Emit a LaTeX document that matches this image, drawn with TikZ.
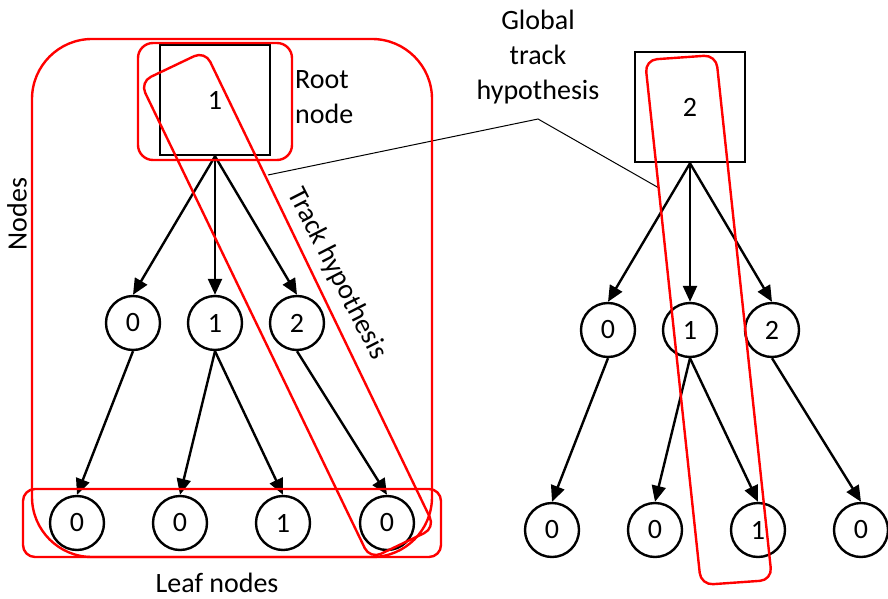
\documentclass[tikz,border=0pt]{standalone}
\usepackage{fontspec}
\setmainfont{Carlito}
\usetikzlibrary{arrows.meta}
\begin{document}
\begin{tikzpicture}[x=1pt,y=-1pt,
  every node/.style={font=\fontsize{28}{35}\selectfont},
  sq/.style={draw, line width=2.6pt, minimum width=110pt, minimum height=110pt, inner sep=0},
  circ/.style={draw, circle, line width=2.4pt, minimum size=54pt, inner sep=0},
  edge/.style={line width=2.4pt, -{Triangle[length=16pt,width=14pt]}},
  grp/.style={draw=red, line width=2.4pt},
  lbl/.style={inner sep=0, align=center},
]
\useasboundingbox (0,0) rectangle (888,599);

% ---------- left tree ----------
\node[sq] (r1) at (215,100) {1};
\node[circ] (a0) at (133,323) {0};
\node[circ] (a1) at (215,323) {1};
\node[circ] (a2) at (297,323) {2};
\node[circ] (b0) at (77,523) {0};
\node[circ] (b1) at (180,523) {0};
\node[circ] (b2) at (283,523) {1};
\node[circ] (b3) at (387,523) {0};

\draw[edge] (r1.south) -- (a0.north);
\draw[edge] (r1.south) -- (a1.north);
\draw[edge] (r1.south) -- (a2.north);
\draw[edge] (a0.south) -- (b0.north);
\draw[edge] (a1.south) -- (b1.north);
\draw[edge] (a1.south) -- (b2.north);
\draw[edge] (a2.south) -- (b3.north);

% ---------- right tree ----------
\node[sq] (r2) at (690,107) {2};
\node[circ] (c0) at (608,330) {0};
\node[circ] (c1) at (690,330) {1};
\node[circ] (c2) at (772,330) {2};
\node[circ] (d0) at (552,530) {0};
\node[circ] (d1) at (655,530) {0};
\node[circ] (d2) at (758,530) {1};
\node[circ] (d3) at (861,530) {0};

\draw[edge] (r2.south) -- (c0.north);
\draw[edge] (r2.south) -- (c1.north);
\draw[edge] (r2.south) -- (c2.north);
\draw[edge] (c0.south) -- (d0.north);
\draw[edge] (c1.south) -- (d1.north);
\draw[edge] (c1.south) -- (d2.north);
\draw[edge] (c2.south) -- (d3.north);

% ---------- labels ----------
\node[lbl, rotate=90] (nodeslbl) at (17,214) {Nodes};
\node[lbl, align=left, anchor=west] (rootlbl) at (295,97) {Root\\node};
\node[lbl] (leaflbl) at (217,583) {Leaf nodes};
\node[lbl, rotate=-63] (tracklbl) at (337,274) {Track hypothesis};
\node[lbl] (globallbl) at (538,57) {Global\\track\\hypothesis};

% callout from the label to both track hypotheses
\coordinate (gapex) at (538,119);
\coordinate (gleft) at (268,175);
\coordinate (gright) at (659,188);
\draw[line width=1pt] (gleft) -- (gapex) -- (gright);

% ---------- red groupings ----------
\draw[grp, rounded corners=60pt] (32,39) rectangle (432,557);
\draw[grp, rounded corners=12pt] (23,489) rectangle (441,557);
\draw[grp, rounded corners=15pt] (138,43) rectangle (292,160);

\coordinate (t1a) at (140,82);
\coordinate (t1b) at (205,51);
\coordinate (t1c) at (435,528);
\coordinate (t1d) at (370,559);
\draw[grp, rounded corners=12pt] (t1a) -- (t1b) -- (t1c) -- (t1d) -- cycle;

\coordinate (t2a) at (645,60);
\coordinate (t2b) at (716,55);
\coordinate (t2c) at (772,580);
\coordinate (t2d) at (701,585);
\draw[grp, rounded corners=12pt] (t2a) -- (t2b) -- (t2c) -- (t2d) -- cycle;
\end{tikzpicture}
\end{document}
